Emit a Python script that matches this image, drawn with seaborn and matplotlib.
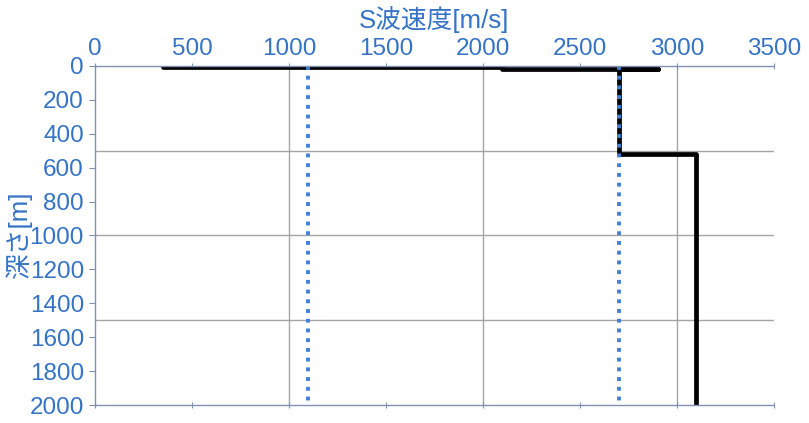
import matplotlib
matplotlib.use("Agg")
import matplotlib.pyplot as plt
import seaborn as sns
import pandas as pd

# S-wave velocity profile (step model)
vs_profile = [350, 2100, 2100, 2900, 2900, 2700, 2700, 3100, 3100]
depth_profile = [4, 4, 15, 15, 15, 15, 520, 520, 2000]

# reference velocities (dotted)
ref_vs = [1100, 2700]
ref_depth = [0, 2000]

x_ticks = [0, 500, 1000, 1500, 2000, 2500, 3000, 3500]
y_ticks = [0, 200, 400, 600, 800, 1000, 1200, 1400, 1600, 1800, 2000]

blue = "#3573c6"
axis_col = "#7f93b0"
grid_col = "#a4a4a4"

sns.set_theme(style="white")
plt.rcParams['font.family'] = ['Liberation Sans', 'Noto Sans CJK JP']

fig = plt.figure(figsize=(8.09, 4.23), dpi=100)
ax = fig.add_axes([95 / 809, 1 - 405 / 423, 679 / 809, 339 / 423])

# gridlines
for gx in [1000, 2000, 3000]:
    ax.axvline(gx, color=grid_col, lw=1.0, zorder=0)
for gy in [500, 1000, 1500]:
    ax.axhline(gy, color=grid_col, lw=1.0, zorder=0)

df = pd.DataFrame({"vs": vs_profile, "depth": depth_profile})
sns.lineplot(data=df, x="vs", y="depth", sort=False, estimator=None,
             color="black", lw=3.4, ax=ax)

for v in ref_vs:
    rdf = pd.DataFrame({"vs": [v, v], "depth": ref_depth})
    sns.lineplot(data=rdf, x="vs", y="depth", sort=False, estimator=None,
                 color="#3f80da", lw=2.8, linestyle=(0, (1.0, 1.5)), ax=ax)

ax.set_xlim(0, 3500)
ax.set_ylim(2000, 0)
ax.set_xticks(x_ticks)
ax.set_yticks(y_ticks)

ax.xaxis.tick_top()
ax.xaxis.set_label_position("top")
ax.tick_params(axis="x", which="both", top=True, bottom=True, labeltop=True,
               labelbottom=False, direction="inout", length=5, width=0.8,
               color=axis_col, labelcolor=blue, labelsize=17.5, pad=2)
ax.tick_params(axis="y", left=True, direction="out", length=4, width=0.8,
               color=axis_col, labelcolor=blue, labelsize=17.5, pad=4)

for s in ["left", "top", "bottom"]:
    ax.spines[s].set_color(axis_col)
    ax.spines[s].set_linewidth(1.0)
ax.spines["right"].set_visible(False)

ax.set_xlabel("S波速度[m/s]", color=blue, fontsize=18.5, labelpad=7)
ax.set_ylabel("深さ[m]", color=blue, fontsize=18.5, va="center", ha="center")
ax.yaxis.set_label_coords(-0.113, 0.5)

fig.savefig("out.png", dpi=100)
